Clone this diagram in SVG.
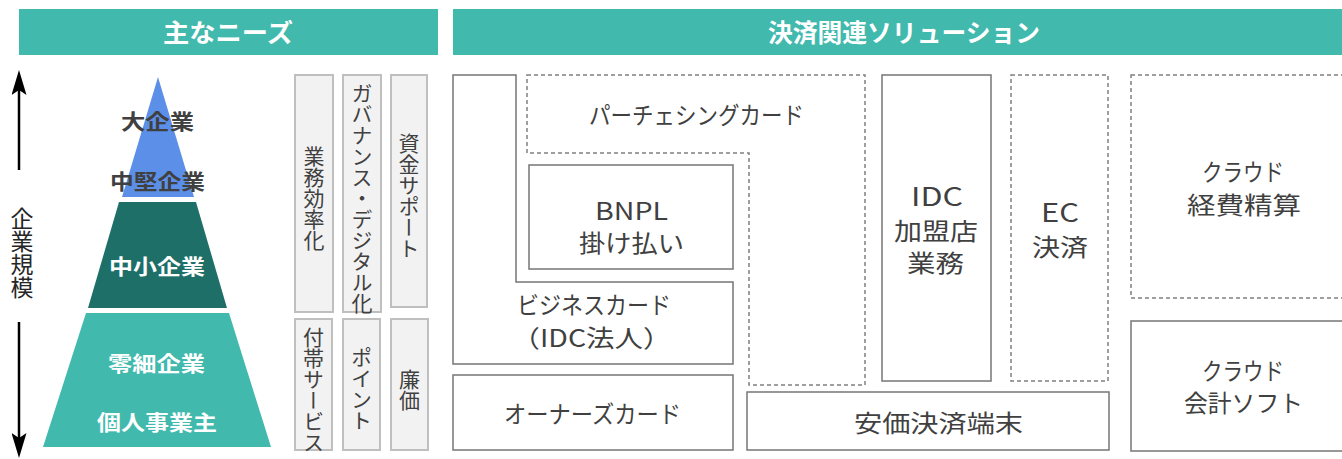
<svg xmlns="http://www.w3.org/2000/svg" width="1342" height="459" viewBox="0 0 1342 459">
<defs>
<style>
text{font-family:"Noto Sans CJK JP","Noto Sans",sans-serif;}
.hd{fill:#41b9ad;}
.hdt{fill:#fff;font-size:25px;font-weight:bold;text-anchor:middle;}
.pt{font-size:21px;font-weight:bold;text-anchor:middle;}
.dk{fill:#404040;}
.wt{fill:#fff;}
.nb{fill:#f2f2f2;stroke:#bfbfbf;stroke-width:2;}
.vt{font-size:21px;fill:#404040;writing-mode:vertical-rl;text-anchor:middle;}
.sb{fill:none;stroke:#767676;stroke-width:1.5;}
.db{fill:none;stroke:#808080;stroke-width:1.5;stroke-dasharray:4 3;}
.bt{font-size:24px;fill:#404040;text-anchor:middle;}
.lt{font-size:25px;fill:#404040;text-anchor:middle;}
.ar{fill:none;stroke:#000;stroke-width:2.5;}
</style>
<marker id="ah" viewBox="0 0 25 15" refX="5" refY="7.5" markerWidth="25" markerHeight="15" markerUnits="userSpaceOnUse" orient="auto">
<path d="M0,0 L25,7.5 L0,15 L5,7.5 Z" fill="#000"/>
</marker>
</defs>

<g id="header-needs">
<rect class="hd" x="19" y="9" width="419" height="46"/>
<text class="hdt" x="228" y="42" textLength="130" lengthAdjust="spacingAndGlyphs">主なニーズ</text>
</g>
<g id="header-solutions">
<rect class="hd" x="453" y="9" width="900" height="46"/>
<text class="hdt" x="904" y="42" textLength="272" lengthAdjust="spacingAndGlyphs">決済関連ソリューション</text>
</g>

<g id="scale-axis">
<text x="22" y="253" style="font-size:23px;fill:#262626;writing-mode:vertical-rl;text-anchor:middle;">企業規模</text>
</g>

<g id="connectors">
<path class="ar" d="M19,170 L19,90" marker-end="url(#ah)"/>
<path class="ar" d="M19,322 L19,438" marker-end="url(#ah)"/>
</g>

<g id="pyramid-top">
<polygon points="158,77 194,197 122,197" fill="#5b8fe8"/>
<text class="pt dk" x="157.5" y="129" textLength="73" lengthAdjust="spacingAndGlyphs">大企業</text>
<text class="pt dk" x="157.5" y="189" textLength="95" lengthAdjust="spacingAndGlyphs">中堅企業</text>
</g>
<g id="pyramid-middle">
<polygon points="119,202 196,202 227,308 88,308" fill="#1e6f68"/>
<text class="pt wt" x="157" y="274" textLength="96" lengthAdjust="spacingAndGlyphs">中小企業</text>
</g>
<g id="pyramid-bottom">
<polygon points="86,313 229,313 271,447 43,447" fill="#41b9ad"/>
<text class="pt wt" x="156.5" y="371" textLength="97" lengthAdjust="spacingAndGlyphs">零細企業</text>
<text class="pt wt" x="157" y="430" textLength="120" lengthAdjust="spacingAndGlyphs">個人事業主</text>
</g>

<g id="need-efficiency">
<rect class="nb" x="295" y="75" width="38" height="237"/>
<text class="vt" x="314" y="198">業務効率化</text>
</g>
<g id="need-governance">
<rect class="nb" x="343" y="75" width="38" height="237"/>
<text class="vt" x="362" y="198">ガバナンス・デジタル化</text>
</g>
<g id="need-funding">
<rect class="nb" x="391" y="75" width="36" height="232"/>
<text class="vt" x="409" y="195.5">資金サポート</text>
</g>
<g id="need-extra">
<rect class="nb" x="295" y="319" width="37" height="131"/>
<text class="vt" x="313.5" y="390">付帯サービス</text>
</g>
<g id="need-points">
<rect class="nb" x="343" y="319" width="37" height="131"/>
<text class="vt" x="361.5" y="388.5">ポイント</text>
</g>
<g id="need-cheap">
<rect class="nb" x="391" y="319" width="37" height="131"/>
<text class="vt" x="409.5" y="390">廉価</text>
</g>

<g id="business-card">
<polygon class="sb" points="453,75 516,75 516,282 733,282 733,364 453,364"/>
<text class="bt" x="594" y="314" textLength="154" lengthAdjust="spacingAndGlyphs">ビジネスカード</text>
<text class="bt" x="591.5" y="347" textLength="160" lengthAdjust="spacingAndGlyphs">（IDC法人）</text>
</g>
<g id="purchasing-card">
<polygon class="db" points="527,75 865,75 865,385 749,385 749,153 527,153"/>
<text class="bt" x="696.5" y="124" textLength="215" lengthAdjust="spacingAndGlyphs">パーチェシングカード</text>
</g>
<g id="bnpl">
<rect class="sb" x="529" y="165" width="204" height="104"/>
<text class="bt" x="631.5" y="220" textLength="73" lengthAdjust="spacingAndGlyphs">BNPL</text>
<text class="bt" x="631.5" y="252" textLength="105" lengthAdjust="spacingAndGlyphs">掛け払い</text>
</g>
<g id="owner-card">
<rect class="sb" x="453" y="375" width="280" height="75"/>
<text class="bt" x="592.5" y="423" textLength="177" lengthAdjust="spacingAndGlyphs">オーナーズカード</text>
</g>
<g id="idc-merchant">
<rect class="sb" x="882" y="75" width="109" height="306"/>
<text class="lt" x="937" y="206" textLength="52" lengthAdjust="spacingAndGlyphs">IDC</text>
<text class="bt" x="936" y="240" textLength="84" lengthAdjust="spacingAndGlyphs">加盟店</text>
<text class="bt" x="935.5" y="272" textLength="57" lengthAdjust="spacingAndGlyphs">業務</text>
</g>
<g id="ec-payment">
<rect class="db" x="1011" y="75" width="97" height="306"/>
<text class="lt" x="1060" y="222" textLength="38" lengthAdjust="spacingAndGlyphs">EC</text>
<text class="bt" x="1060" y="256" textLength="56" lengthAdjust="spacingAndGlyphs">決済</text>
</g>
<g id="cheap-terminal">
<rect class="sb" x="747" y="392" width="362" height="58"/>
<text class="bt" x="938.5" y="432" textLength="169" lengthAdjust="spacingAndGlyphs">安価決済端末</text>
</g>
<g id="cloud-expense">
<rect class="db" x="1131" y="75" width="230" height="223"/>
<text class="bt" x="1243" y="181" textLength="82" lengthAdjust="spacingAndGlyphs">クラウド</text>
<text class="bt" x="1244" y="214" textLength="114" lengthAdjust="spacingAndGlyphs">経費精算</text>
</g>
<g id="cloud-accounting">
<rect class="sb" x="1131" y="321" width="230" height="130"/>
<text class="bt" x="1243" y="380" textLength="82" lengthAdjust="spacingAndGlyphs">クラウド</text>
<text class="bt" x="1243.5" y="412" textLength="119" lengthAdjust="spacingAndGlyphs">会計ソフト</text>
</g>
</svg>
